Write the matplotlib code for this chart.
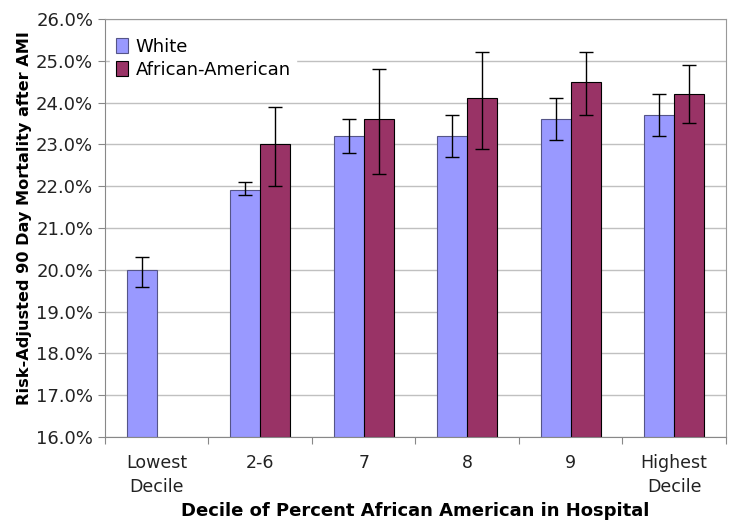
import numpy as np
import matplotlib.pyplot as plt
from matplotlib.ticker import FuncFormatter

categories = ['Lowest\nDecile', '2-6', '7', '8', '9', 'Highest\nDecile']
white = [20.0, 21.9, 23.2, 23.2, 23.6, 23.7]
white_lo = [19.6, 21.8, 22.8, 22.7, 23.1, 23.2]
white_hi = [20.3, 22.1, 23.6, 23.7, 24.1, 24.2]
aa = [np.nan, 23.0, 23.6, 24.1, 24.5, 24.2]
aa_lo = [np.nan, 22.0, 22.3, 22.9, 23.7, 23.5]
aa_hi = [np.nan, 23.9, 24.8, 25.2, 25.2, 24.9]

plt.rcParams['font.family'] = ['DejaVu Sans']

fig = plt.figure(figsize=(7.34, 5.26), dpi=100)
ax = fig.add_axes([0.143, 0.169, 0.846, 0.795])

x = np.arange(len(categories))
w = 0.29

w_arr = np.array(white)
a_arr = np.array(aa)
w_err = [w_arr - np.array(white_lo), np.array(white_hi) - w_arr]
a_err = [a_arr - np.array(aa_lo), np.array(aa_hi) - a_arr]

ax.bar(x - w/2, w_arr - 16, w, bottom=16, color='#9999FF', edgecolor='#555588',
       linewidth=0.8, label='White', zorder=2)
ax.bar(x + w/2, a_arr - 16, w, bottom=16, color='#993366', edgecolor='black',
       linewidth=0.8, label='African-American', zorder=2)
ax.errorbar(x - w/2, w_arr, yerr=w_err, fmt='none', ecolor='black', elinewidth=1,
            capsize=5, capthick=1, zorder=3)
ax.errorbar(x + w/2, a_arr, yerr=a_err, fmt='none', ecolor='black', elinewidth=1,
            capsize=5, capthick=1, zorder=3)

ax.set_ylim(16, 26)
ax.set_xlim(-0.5, len(categories) - 0.5)
ax.set_yticks(np.arange(16, 26.1, 1))
ax.yaxis.set_major_formatter(FuncFormatter(lambda v, p: f'{v:.1f}%'))
ax.set_xticks(np.arange(-0.5, len(categories), 1), minor=False)
ax.set_xticklabels([])
ax.set_xticks(x, minor=True)
ax.set_xticklabels(categories, minor=True, fontsize=12.5, color='#222222',
                   linespacing=1.45)
ax.tick_params(axis='x', which='minor', length=0, pad=12)
ax.tick_params(axis='x', which='major', length=5, color='#888888')
ax.tick_params(axis='y', labelsize=13, length=5, color='#888888', labelcolor='#222222')

ax.grid(axis='y', color='#c0c0c0', linewidth=1, zorder=0)
ax.set_axisbelow(True)
for s in ['top', 'right']:
    ax.spines[s].set_color('#999999')
for s in ['left', 'bottom']:
    ax.spines[s].set_color('#888888')

ax.set_xlabel('Decile of Percent African American in Hospital', fontsize=13,
              fontweight='bold', labelpad=4)
ax.set_ylabel('Risk-Adjusted 90 Day Mortality after AMI', fontsize=11.6,
              fontweight='bold')
ax.yaxis.set_label_coords(-0.118, 0.525)

leg = ax.legend(loc='upper left', bbox_to_anchor=(0.0, 0.98), frameon=True,
                fontsize=13, handlelength=0.7, handleheight=0.9,
                handletextpad=0.4, borderaxespad=0.3, labelspacing=0.25,
                borderpad=0.3)
leg.get_frame().set_facecolor('white')
leg.get_frame().set_edgecolor('white')
leg.get_frame().set_alpha(1)

fig.savefig('out.png', dpi=100)
